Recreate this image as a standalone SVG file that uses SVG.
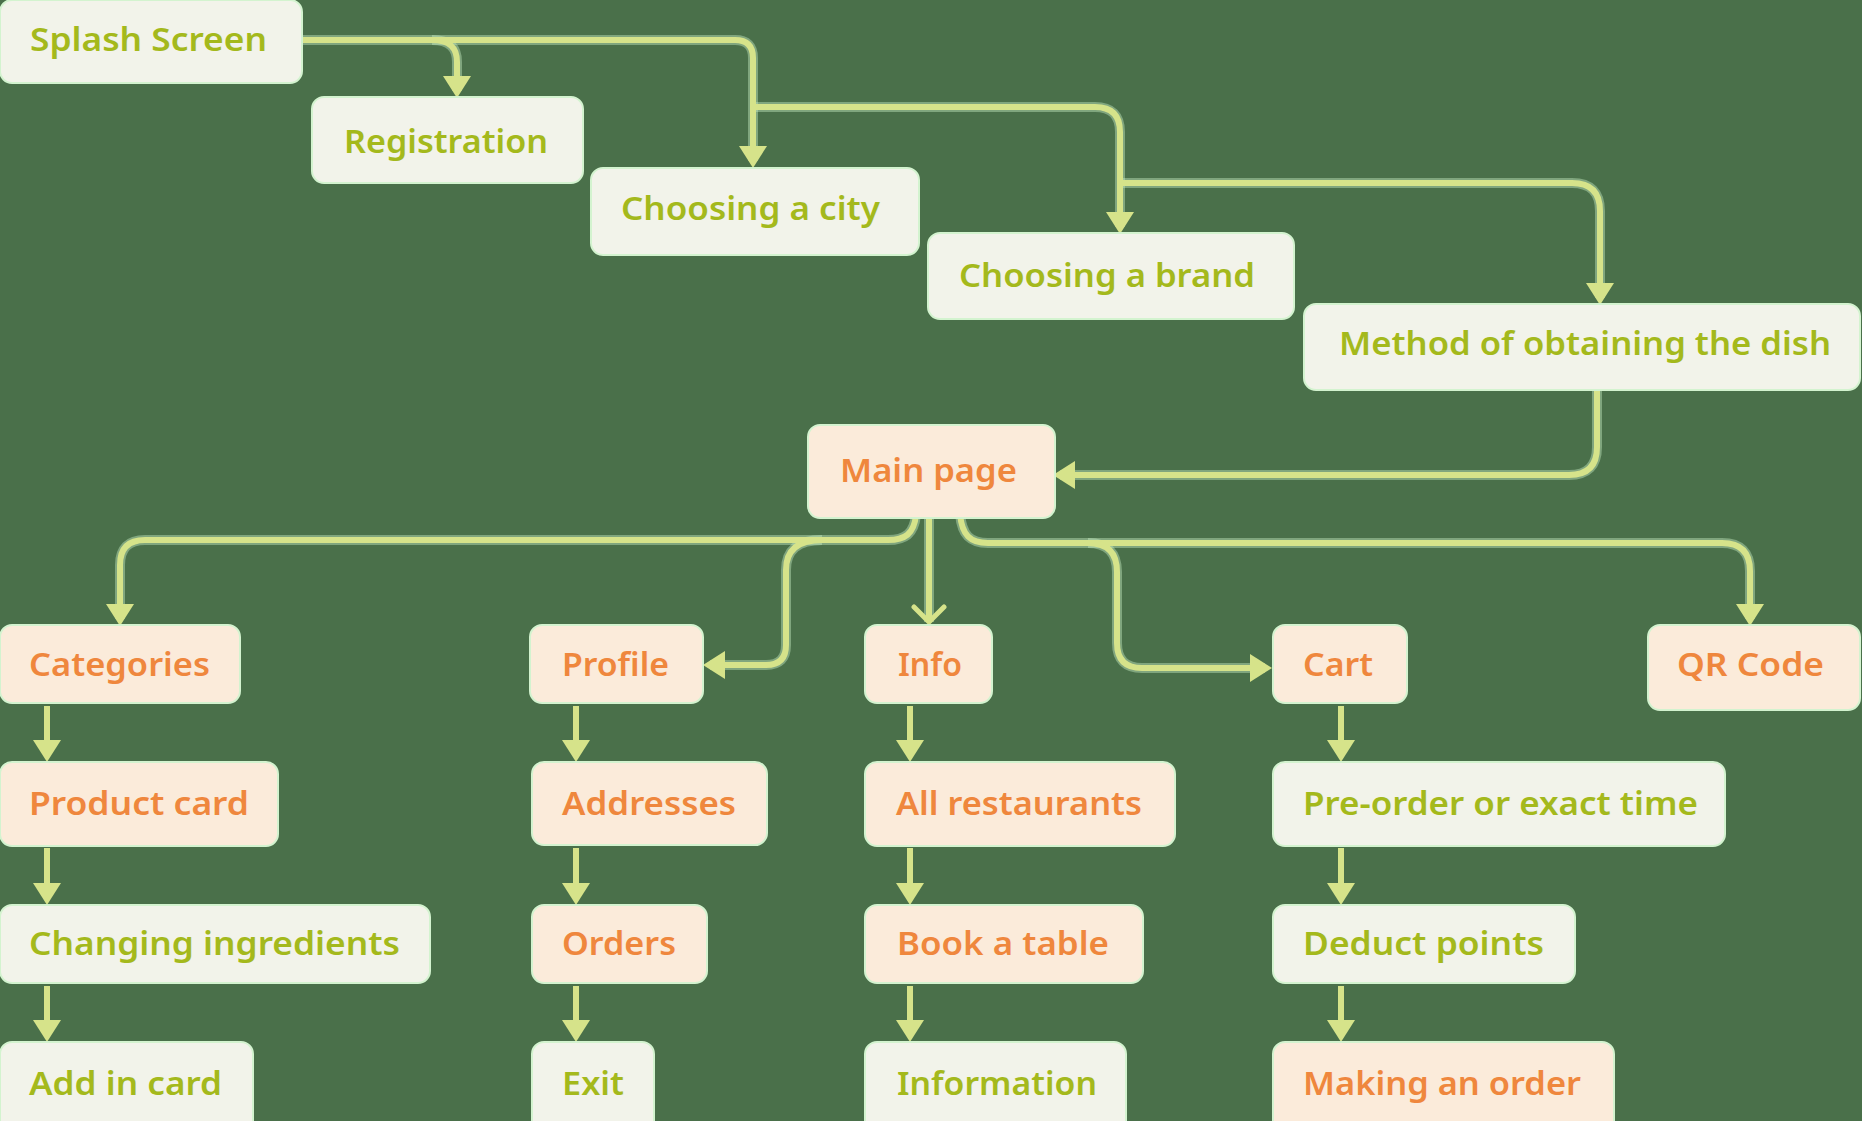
<svg xmlns="http://www.w3.org/2000/svg" width="1862" height="1121" viewBox="0 0 1862 1121">
<defs>
<style>
.bg{fill:#4A704A}
.g rect{fill:#F2F3EA;stroke:#D3F3CF;stroke-width:2}
.o rect{fill:#FBEBDA;stroke:#D3F3CF;stroke-width:2}
text{font-family:"Noto Sans","Open Sans","DejaVu Sans",sans-serif;font-size:32px;font-weight:600}
.g text{fill:#A4B91C}
.o text{fill:#EF873D}
.halo path{fill:none;stroke:#C3E8BE;stroke-width:10;opacity:0.45}
.ln path{fill:none;stroke:#D6E38A;stroke-width:6}
</style>
<marker id="tri" viewBox="0 0 22 28" refX="15" refY="14" markerWidth="22" markerHeight="28" markerUnits="userSpaceOnUse" orient="auto">
<path d="M0,0 L22,14 L0,28 Z" fill="#D6E38A"/>
</marker>
<marker id="chev" viewBox="0 0 22 36" refX="18" refY="18" markerWidth="22" markerHeight="36" markerUnits="userSpaceOnUse" orient="auto">
<path d="M3,3 L18,18 L3,33" fill="none" stroke="#D6E38A" stroke-width="5" stroke-linecap="round" stroke-linejoin="round"/>
</marker>
</defs>
<rect class="bg" x="0" y="0" width="1862" height="1121"/>

<g id="connectors">
<g class="halo">
<path d="M303,40 H735 Q753,40 753,58 V161"/>
<path d="M432,40 C450,40 457,48 457,62 V91"/>
<path d="M753,107 H1095 Q1120,107 1120,132 V227"/>
<path d="M1120,183 H1572 Q1600,183 1600,211 V298"/>
<path d="M1597,390 V447 Q1597,475 1569,475 H1060"/>
<path d="M916,515 C914,534 905,540 888,540 H145 Q120,540 120,565 V619"/>
<path d="M822,540 Q786,540 786,570 V645 Q786,665 766,665 H710"/>
<path d="M929,498 V622"/>
<path d="M960,514 C962,535 970,543 988,543 H1722 Q1750,543 1750,571 V619"/>
<path d="M1088,543 Q1117,543 1117,572 V643 Q1117,668 1142,668 H1265"/>
</g>
<g class="ln">
<path d="M303,40 H735 Q753,40 753,58 V161" marker-end="url(#tri)"/>
<path d="M432,40 C450,40 457,48 457,62 V91" marker-end="url(#tri)"/>
<path d="M753,107 H1095 Q1120,107 1120,132 V227" marker-end="url(#tri)"/>
<path d="M1120,183 H1572 Q1600,183 1600,211 V298" marker-end="url(#tri)"/>
<path d="M1597,390 V447 Q1597,475 1569,475 H1060" marker-end="url(#tri)"/>
<path d="M916,515 C914,534 905,540 888,540 H145 Q120,540 120,565 V619" marker-end="url(#tri)"/>
<path d="M822,540 Q786,540 786,570 V645 Q786,665 766,665 H710" marker-end="url(#tri)"/>
<path d="M929,498 V622" marker-end="url(#chev)"/>
<path d="M960,514 C962,535 970,543 988,543 H1722 Q1750,543 1750,571 V619" marker-end="url(#tri)"/>
<path d="M1088,543 Q1117,543 1117,572 V643 Q1117,668 1142,668 H1265" marker-end="url(#tri)"/>
<path d="M47,706 V755" marker-end="url(#tri)"/>
<path d="M47,848 V898" marker-end="url(#tri)"/>
<path d="M47,986 V1035" marker-end="url(#tri)"/>
<path d="M576,706 V755" marker-end="url(#tri)"/>
<path d="M576,848 V898" marker-end="url(#tri)"/>
<path d="M576,986 V1035" marker-end="url(#tri)"/>
<path d="M910,706 V755" marker-end="url(#tri)"/>
<path d="M910,848 V898" marker-end="url(#tri)"/>
<path d="M910,986 V1035" marker-end="url(#tri)"/>
<path d="M1341,706 V755" marker-end="url(#tri)"/>
<path d="M1341,848 V898" marker-end="url(#tri)"/>
<path d="M1341,986 V1035" marker-end="url(#tri)"/>
</g>
</g>

<g id="splash" class="g"><rect x="0" y="0" width="302" height="83" rx="12"/><text x="30" y="51" textLength="237" lengthAdjust="spacingAndGlyphs">Splash Screen</text></g>
<g id="registration" class="g"><rect x="312" y="97" width="271" height="86" rx="12"/><text x="344" y="153" textLength="204" lengthAdjust="spacingAndGlyphs">Registration</text></g>
<g id="city" class="g"><rect x="591" y="168" width="328" height="87" rx="12"/><text x="621" y="220" textLength="259" lengthAdjust="spacingAndGlyphs">Choosing a city</text></g>
<g id="brand" class="g"><rect x="928" y="233" width="366" height="86" rx="12"/><text x="959" y="287" textLength="296" lengthAdjust="spacingAndGlyphs">Choosing a brand</text></g>
<g id="method" class="g"><rect x="1304" y="304" width="556" height="86" rx="12"/><text x="1339" y="355" textLength="492" lengthAdjust="spacingAndGlyphs">Method of obtaining the dish</text></g>
<g id="main" class="o"><rect x="808" y="425" width="247" height="93" rx="12"/><text x="840" y="482" textLength="177" lengthAdjust="spacingAndGlyphs">Main page</text></g>

<g id="categories" class="o"><rect x="0" y="625" width="240" height="78" rx="12"/><text x="29" y="676" textLength="181" lengthAdjust="spacingAndGlyphs">Categories</text></g>
<g id="profile" class="o"><rect x="530" y="625" width="173" height="78" rx="12"/><text x="562" y="676" textLength="107" lengthAdjust="spacingAndGlyphs">Profile</text></g>
<g id="info" class="o"><rect x="865" y="625" width="127" height="78" rx="12"/><text x="898" y="676" textLength="64" lengthAdjust="spacingAndGlyphs">Info</text></g>
<g id="cart" class="o"><rect x="1273" y="625" width="134" height="78" rx="12"/><text x="1303" y="676" textLength="70" lengthAdjust="spacingAndGlyphs">Cart</text></g>
<g id="qrcode" class="o"><rect x="1648" y="625" width="212" height="85" rx="12"/><text x="1677" y="676" textLength="147" lengthAdjust="spacingAndGlyphs">QR Code</text></g>

<g id="productcard" class="o"><rect x="0" y="762" width="278" height="84" rx="12"/><text x="29" y="815" textLength="220" lengthAdjust="spacingAndGlyphs">Product card</text></g>
<g id="addresses" class="o"><rect x="532" y="762" width="235" height="83" rx="12"/><text x="562" y="815" textLength="174" lengthAdjust="spacingAndGlyphs">Addresses</text></g>
<g id="allrestaurants" class="o"><rect x="865" y="762" width="310" height="84" rx="12"/><text x="896" y="815" textLength="246" lengthAdjust="spacingAndGlyphs">All restaurants</text></g>
<g id="preorder" class="g"><rect x="1273" y="762" width="452" height="84" rx="12"/><text x="1303" y="815" textLength="395" lengthAdjust="spacingAndGlyphs">Pre-order or exact time</text></g>

<g id="changing" class="g"><rect x="0" y="905" width="430" height="78" rx="12"/><text x="29" y="955" textLength="371" lengthAdjust="spacingAndGlyphs">Changing ingredients</text></g>
<g id="orders" class="o"><rect x="532" y="905" width="175" height="78" rx="12"/><text x="562" y="955" textLength="114" lengthAdjust="spacingAndGlyphs">Orders</text></g>
<g id="booktable" class="o"><rect x="865" y="905" width="278" height="78" rx="12"/><text x="897" y="955" textLength="212" lengthAdjust="spacingAndGlyphs">Book a table</text></g>
<g id="deduct" class="g"><rect x="1273" y="905" width="302" height="78" rx="12"/><text x="1303" y="955" textLength="241" lengthAdjust="spacingAndGlyphs">Deduct points</text></g>

<g id="addincard" class="g"><rect x="0" y="1042" width="253" height="90" rx="12"/><text x="29" y="1095" textLength="193" lengthAdjust="spacingAndGlyphs">Add in card</text></g>
<g id="exit" class="g"><rect x="532" y="1042" width="122" height="90" rx="12"/><text x="562" y="1095" textLength="62" lengthAdjust="spacingAndGlyphs">Exit</text></g>
<g id="information" class="g"><rect x="865" y="1042" width="261" height="90" rx="12"/><text x="897" y="1095" textLength="200" lengthAdjust="spacingAndGlyphs">Information</text></g>
<g id="makingorder" class="o"><rect x="1273" y="1042" width="341" height="90" rx="12"/><text x="1303" y="1095" textLength="278" lengthAdjust="spacingAndGlyphs">Making an order</text></g>
</svg>
